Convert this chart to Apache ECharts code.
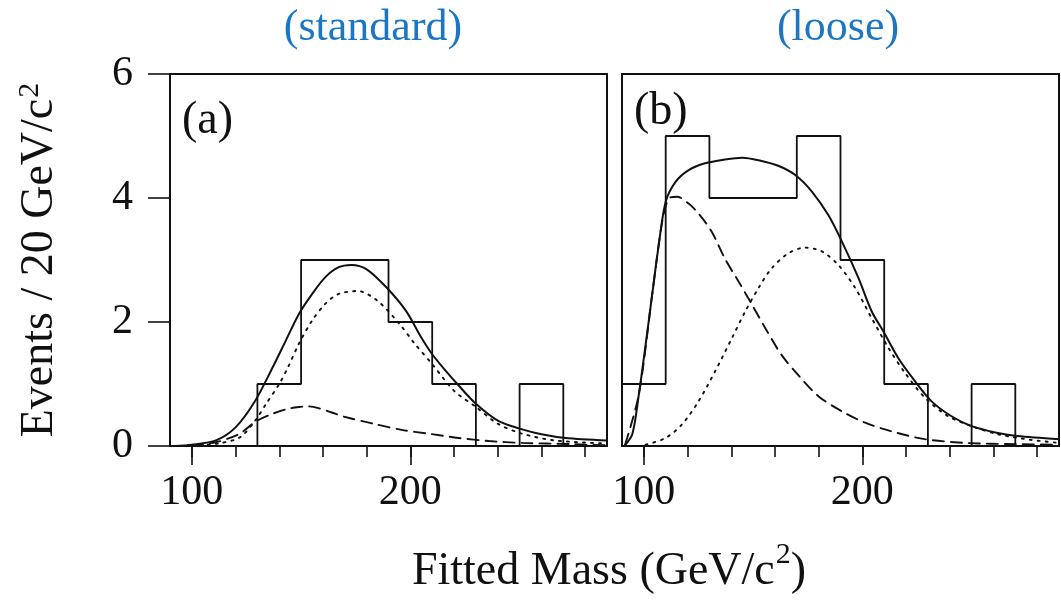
<!DOCTYPE html>
<html>
<head>
<meta charset="utf-8">
<script src="https://cdn.jsdelivr.net/npm/echarts@6/dist/echarts.min.js"></script>
<style>
html,body{margin:0;padding:0;background:#fff;}
#main{width:1061px;height:610px;}
</style>
</head>
<body>
<div id="main"></div>
<script>
// ---------- data ----------
const panelTitles = ['(standard)', '(loose)'];
const panelLabels = ['(a)', '(b)'];
const xTitleParts = ['Fitted Mass (GeV/c', '2', ')'];
const yTitleParts = ['Events / 20 GeV/c', '2'];

const xMinorTicks = [100,120,140,160,180,200,220,240,260,280];
const xMajorTicks = [100,200];

// histogram (a)
const binEdgesA = [130,150,170,190,210,230,250,270];
const countsA   = [1,3,3,2,1,0,1];
// histogram (b)
const binEdgesB = [90,110,130,150,170,190,210,230,250,270];
const countsB   = [1,5,4,4,5,3,1,0,1];

// (a) total fit (solid)
const massA_total = [92,100,111,120,129,137,143,149,155,161,167,173,180,189,198,205,210,216,222,230,240,250,260,271,290];
const fitA_total  = [0,0.02,0.09,0.3,0.73,1.27,1.70,2.13,2.45,2.72,2.88,2.92,2.85,2.56,2.18,1.75,1.48,1.22,0.98,0.68,0.41,0.28,0.19,0.13,0.09];
// (a) signal (dotted)
const massA_sig = [100,112,122,129,134,140,144,149,155,161,167,176,185,195,202,210,220,230,240,251,266,290];
const fitA_sig  = [0,0.04,0.14,0.41,0.68,1.0,1.27,1.65,2.02,2.29,2.45,2.50,2.34,1.97,1.65,1.32,0.89,0.63,0.36,0.2,0.09,0.04];
// (a) background (dashed)
const massA_bkg = [100,111,122,129,137,144,149,153,158,164,170,183,196,208,222,236,251,274,290];
const fitA_bkg  = [0.01,0.06,0.2,0.39,0.52,0.60,0.63,0.64,0.61,0.54,0.47,0.36,0.26,0.2,0.13,0.08,0.05,0.03,0.01];

// (b) total fit (solid)
const massB_total = [91,94.7,97.7,100.8,103.8,106.8,110,114.5,120.5,128,137,145,152.5,161.5,169.3,177,184.5,190.6,198.2,204.3,209.6,216.4,224,231.7,240.8,250,262,271,290];
const fitB_total  = [0,0.19,0.83,1.63,2.44,3.24,3.94,4.26,4.45,4.56,4.62,4.65,4.61,4.52,4.37,4.10,3.72,3.30,2.71,2.17,1.85,1.42,1.05,0.72,0.48,0.32,0.21,0.16,0.11];
// (b) background (dashed)
const massB_bkg = [91.5,97.7,103.8,108.4,111.4,115.2,120.5,125,131,137,143.4,149.5,155.6,163,171,180,190.6,201,213,228.6,247,270,290];
const fitB_bkg  = [0.03,0.83,2.44,3.62,3.99,4.02,3.91,3.75,3.46,3.03,2.65,2.28,1.90,1.47,1.13,0.80,0.56,0.38,0.24,0.11,0.05,0.03,0.02];
// (b) signal (dotted)
const massB_sig = [100.8,110,117.5,125,132.7,140.3,146.4,152.5,158.6,166.2,173.8,181.4,189,196.7,204.3,212,219.5,228.6,239.3,250,262,277,290];
const fitB_sig  = [0.02,0.13,0.35,0.72,1.21,1.74,2.17,2.55,2.87,3.11,3.20,3.14,2.92,2.55,2.06,1.58,1.18,0.78,0.48,0.32,0.19,0.10,0.05];

// ---------- helpers ----------
const SERIF = "'Liberation Serif','Times New Roman',serif";
const BLUE = '#1b76c4';
const INK = '#111';
function outline(edges, counts){
  const pts = [[edges[0],0]];
  for (let i=0;i<counts.length;i++){
    pts.push([edges[i],counts[i]]);
    pts.push([edges[i+1],counts[i]]);
  }
  pts.push([edges[edges.length-1],0]);
  return pts;
}
function zip(xs, ys){ return xs.map((x,i)=>[x,ys[i]]); }

const chart = echarts.init(document.getElementById('main'), null, {renderer:'canvas'});

const grids = [
  {left:170, top:74, width:437, height:372, show:true, borderColor:INK, borderWidth:2, backgroundColor:'transparent'},
  {left:622, top:74, width:437, height:372, show:true, borderColor:INK, borderWidth:2, backgroundColor:'transparent'}
];

const xAxes = [];
[0,1].forEach(g=>{
  xAxes.push({
    type:'value', gridIndex:g, min:90, max:290, position:'bottom',
    axisLine:{show:false}, splitLine:{show:false},
    axisTick:{show:true, inside:false, length:11, customValues:xMinorTicks, lineStyle:{color:INK, width:1.6}},
    axisLabel:{show:false}
  });
  xAxes.push({
    type:'value', gridIndex:g, min:90, max:290, position:'bottom',
    axisLine:{show:false}, splitLine:{show:false},
    axisTick:{show:true, inside:false, length:19, customValues:xMajorTicks, lineStyle:{color:INK, width:1.6}},
    axisLabel:{show:true, customValues:xMajorTicks, margin:26, fontFamily:SERIF, fontSize:42, color:INK}
  });
});

const yAxes = [
  {type:'value', gridIndex:0, min:0, max:6, interval:2,
   axisLine:{show:false}, splitLine:{show:false},
   axisTick:{show:true, inside:false, length:22, lineStyle:{color:INK, width:1.6}},
   axisLabel:{show:true, margin:37, fontFamily:SERIF, fontSize:42, color:INK}},
  {type:'value', gridIndex:1, min:0, max:6, interval:2,
   axisLine:{show:false}, splitLine:{show:false}, axisTick:{show:false}, axisLabel:{show:false}}
];

function curve(data, xi, yi, type){
  return {
    type:'line', xAxisIndex:xi, yAxisIndex:yi, data:data, symbol:'none',
    smooth:0.3, clip:true, silent:true,
    lineStyle:{color:INK, width:type==='solid'?2:1.9, type:type, cap:'round'}
  };
}

const series = [
  {type:'line', xAxisIndex:0, yAxisIndex:0, data:outline(binEdgesA,countsA), symbol:'none', silent:true,
   lineStyle:{color:INK, width:1.8}},
  curve(zip(massA_total,fitA_total),0,0,'solid'),
  curve(zip(massA_sig,fitA_sig),0,0,[2,6]),
  curve(zip(massA_bkg,fitA_bkg),0,0,[11,7]),
  {type:'line', xAxisIndex:2, yAxisIndex:1, data:outline(binEdgesB,countsB), symbol:'none', silent:true,
   lineStyle:{color:INK, width:1.8}},
  curve(zip(massB_total,fitB_total),2,1,'solid'),
  curve(zip(massB_sig,fitB_sig),2,1,[2,6]),
  curve(zip(massB_bkg,fitB_bkg),2,1,[11,7])
];

const richT = {
  a:{fontFamily:SERIF, fontSize:46, lineHeight:50, fill:INK, color:INK},
  b:{fontFamily:SERIF, fontSize:46, lineHeight:64, fill:INK, color:INK},
  s:{fontFamily:SERIF, fontSize:30, lineHeight:18, fill:INK, color:INK, verticalAlign:'top', padding:[0,0,0,1]}
};

const graphic = [
  {type:'text', x:373, y:28, style:{text:panelTitles[0], font:'44px '+SERIF, fill:BLUE, align:'center', verticalAlign:'middle'}},
  {type:'text', x:838, y:28, style:{text:panelTitles[1], font:'44px '+SERIF, fill:BLUE, align:'center', verticalAlign:'middle'}},
  {type:'text', x:182, y:121, style:{text:panelLabels[0], font:'46px '+SERIF, fill:INK, align:'left', verticalAlign:'middle'}},
  {type:'text', x:634, y:112, style:{text:panelLabels[1], font:'46px '+SERIF, fill:INK, align:'left', verticalAlign:'middle'}},
  {type:'text', x:609, y:572, style:{text:'{b|'+xTitleParts[0]+'}{s|'+xTitleParts[1]+'}{b|'+xTitleParts[2]+'}',
    rich:richT, fill:INK, align:'center', verticalAlign:'middle'}},
  {type:'text', x:40, y:260, rotation:Math.PI/2, style:{text:'{a|'+yTitleParts[0]+'}{s|'+yTitleParts[1]+'}',
    rich:richT, fill:INK, align:'center', verticalAlign:'middle'}}
];

chart.setOption({
  animation:false,
  backgroundColor:'#fff',
  grid:grids,
  xAxis:xAxes,
  yAxis:yAxes,
  series:series,
  graphic:graphic
});
</script>
</body>
</html>
